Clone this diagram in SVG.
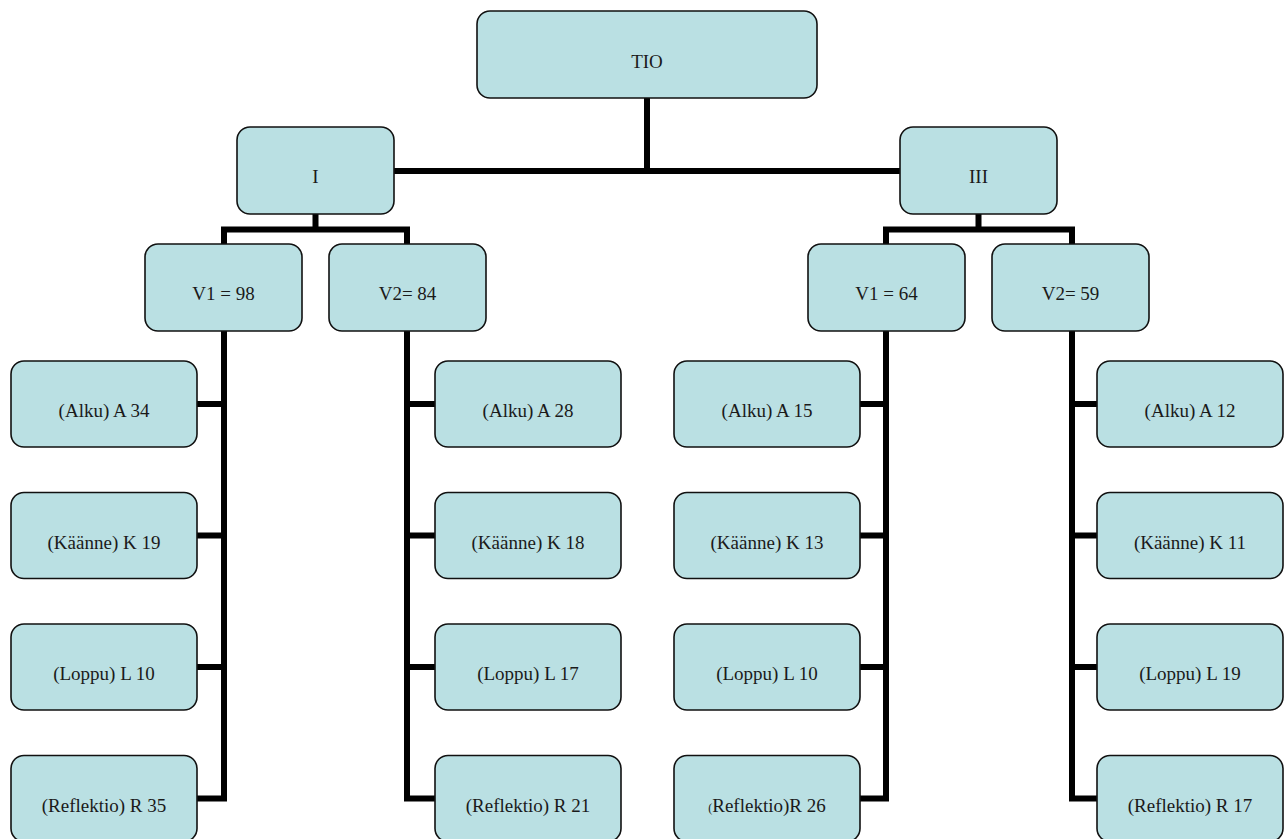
<svg xmlns="http://www.w3.org/2000/svg" width="1284" height="839" viewBox="0 0 1284 839">
<style>
.box{fill:#BAE0E3;stroke:#111;stroke-width:1.6}
.t{font-family:"Liberation Serif","Times New Roman",serif;font-size:19px;fill:#1a1a1a;text-anchor:middle}
.c{fill:none;stroke:#000;stroke-width:6;stroke-linecap:butt;stroke-linejoin:miter}
</style>
<rect width="1284" height="839" fill="#fff"/>
<g id="connectors">
<path class="c" d="M647,98 V171 M394,171 H900"/>
<path class="c" d="M315.5,214 V229.5 M224,244 V229.5 H407 V244"/>
<path class="c" d="M978.5,214 V229.5 M886,244 V229.5 H1072 V244"/>
<path class="c" d="M224,331 V801.5 M197,404 H224 M197,535.5 H224 M197,667 H224 M197,798.5 H227"/>
<path class="c" d="M407,331 V801.5 M435,404 H407 M435,535.5 H407 M435,667 H407 M435,798.5 H404"/>
<path class="c" d="M886,331 V801.5 M860,404 H886 M860,535.5 H886 M860,667 H886 M860,798.5 H889"/>
<path class="c" d="M1072,331 V801.5 M1097,404 H1072 M1097,535.5 H1072 M1097,667 H1072 M1097,798.5 H1069"/>
</g>
<g id="n-tio"><rect class="box" x="477" y="11" width="340" height="87" rx="13"/><text class="t" x="647" y="67.5">TIO</text></g>
<g id="n-i"><rect class="box" x="237" y="127" width="157" height="87" rx="13"/><text class="t" x="315.5" y="183">I</text></g>
<g id="n-iii"><rect class="box" x="900" y="127" width="157" height="87" rx="13"/><text class="t" x="978.5" y="183">III</text></g>
<g id="n-i-v1"><rect class="box" x="145" y="244" width="157" height="87" rx="13"/><text class="t" x="223.5" y="300">V1 = 98</text></g>
<g id="n-i-v2"><rect class="box" x="329" y="244" width="157" height="87" rx="13"/><text class="t" x="407.5" y="300">V2= 84</text></g>
<g id="n-iii-v1"><rect class="box" x="808" y="244" width="157" height="87" rx="13"/><text class="t" x="886.5" y="300">V1 = 64</text></g>
<g id="n-iii-v2"><rect class="box" x="992" y="244" width="157" height="87" rx="13"/><text class="t" x="1070.5" y="300">V2= 59</text></g>
<g id="n-c1-a"><rect class="box" x="11" y="361" width="186" height="86" rx="13"/><text class="t" x="104" y="417">(Alku) A 34</text></g>
<g id="n-c1-k"><rect class="box" x="11" y="492.5" width="186" height="86" rx="13"/><text class="t" x="104" y="548.5">(Käänne) K 19</text></g>
<g id="n-c1-l"><rect class="box" x="11" y="624" width="186" height="86" rx="13"/><text class="t" x="104" y="680">(Loppu) L 10</text></g>
<g id="n-c1-r"><rect class="box" x="11" y="755.5" width="186" height="86" rx="13"/><text class="t" x="104" y="811.5">(Reflektio) R 35</text></g>
<g id="n-c2-a"><rect class="box" x="435" y="361" width="186" height="86" rx="13"/><text class="t" x="528" y="417">(Alku) A 28</text></g>
<g id="n-c2-k"><rect class="box" x="435" y="492.5" width="186" height="86" rx="13"/><text class="t" x="528" y="548.5">(Käänne) K 18</text></g>
<g id="n-c2-l"><rect class="box" x="435" y="624" width="186" height="86" rx="13"/><text class="t" x="528" y="680">(Loppu) L 17</text></g>
<g id="n-c2-r"><rect class="box" x="435" y="755.5" width="186" height="86" rx="13"/><text class="t" x="528" y="811.5">(Reflektio) R 21</text></g>
<g id="n-c3-a"><rect class="box" x="674" y="361" width="186" height="86" rx="13"/><text class="t" x="767" y="417">(Alku) A 15</text></g>
<g id="n-c3-k"><rect class="box" x="674" y="492.5" width="186" height="86" rx="13"/><text class="t" x="767" y="548.5">(Käänne) K 13</text></g>
<g id="n-c3-l"><rect class="box" x="674" y="624" width="186" height="86" rx="13"/><text class="t" x="767" y="680">(Loppu) L 10</text></g>
<g id="n-c3-r"><rect class="box" x="674" y="755.5" width="186" height="86" rx="13"/><text class="t" x="767" y="811.5"><tspan font-size="12">(</tspan>Reflektio)R 26</text></g>
<g id="n-c4-a"><rect class="box" x="1097" y="361" width="186" height="86" rx="13"/><text class="t" x="1190" y="417">(Alku) A 12</text></g>
<g id="n-c4-k"><rect class="box" x="1097" y="492.5" width="186" height="86" rx="13"/><text class="t" x="1190" y="548.5">(Käänne) K 11</text></g>
<g id="n-c4-l"><rect class="box" x="1097" y="624" width="186" height="86" rx="13"/><text class="t" x="1190" y="680">(Loppu) L 19</text></g>
<g id="n-c4-r"><rect class="box" x="1097" y="755.5" width="186" height="86" rx="13"/><text class="t" x="1190" y="811.5">(Reflektio) R 17</text></g>
</svg>
